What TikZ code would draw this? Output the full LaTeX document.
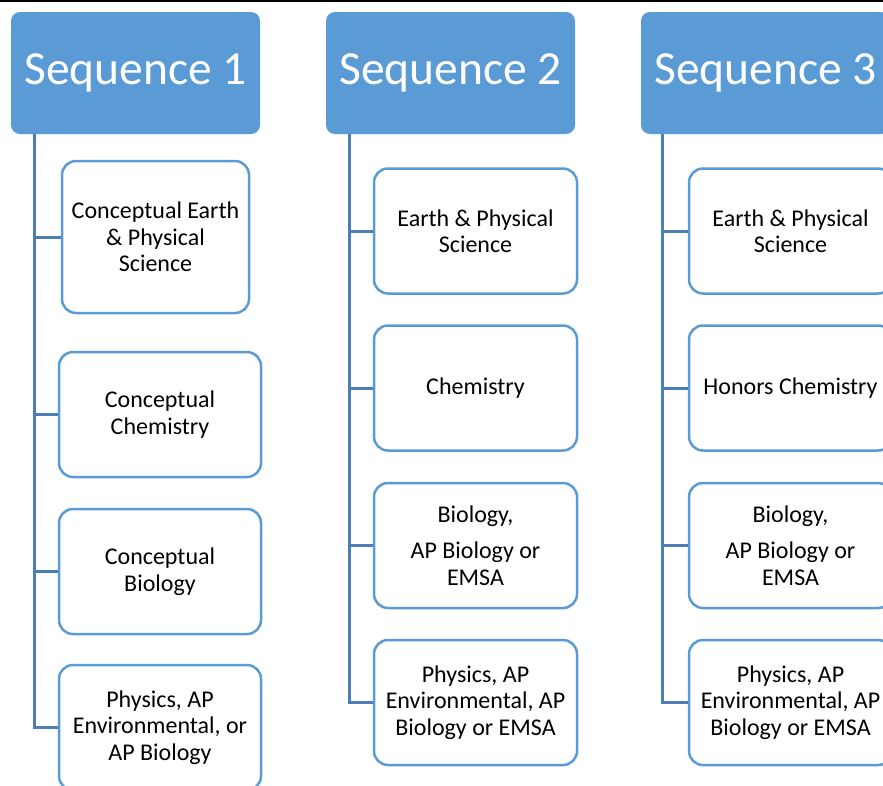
\documentclass[tikz,border=0pt]{standalone}
\usepackage{fontspec}
\setmainfont{Carlito}
\usetikzlibrary{calc}
\definecolor{hdrblue}{HTML}{5B9BD5}
\definecolor{boxblue}{HTML}{5B9BD5}
\definecolor{linkblue}{HTML}{4A7EB5}
\tikzset{
  header/.style={fill=hdrblue, draw=none, rounded corners=9pt, inner sep=0pt,
    minimum width=249pt, minimum height=122pt, text=white,
    font=\fontsize{47.5}{52}\selectfont},
  course/.style={draw=boxblue, line width=2.5pt, fill=white, rounded corners=14pt,
    inner sep=0pt, minimum height=125pt, align=center,
    font=\fontsize{24}{26.5}\selectfont},
  link/.style={draw=linkblue, line width=3pt}
}
\begin{document}
\begin{tikzpicture}[x=1pt, y=-1pt]
\useasboundingbox (0,0) rectangle (883,785);
\clip (0,0) rectangle (883,785);
\fill[white] (0,0) rectangle (883,785);
% rule across the top edge
\draw[line width=1.6pt, black] (0,0.8) -- (883,0.8);

% column headers
\node[header] (h1) at (135.5,73) {Sequence 1};
\node[header] (h2) at (450.5,73) {Sequence 2};
\node[header] (h3) at (765.5,73) {Sequence 3};

% trunk start points under each header
\coordinate (t1) at ($(h1.south west)+(24,0)$);
\coordinate (t2) at ($(h2.south west)+(24,0)$);
\coordinate (t3) at ($(h3.south west)+(22,0)$);

% sequence 1 courses
\node[course, minimum width=187pt, minimum height=152pt] (a1) at (155.5,237) {Conceptual Earth\\\& Physical\\Science};
\node[course, minimum width=202pt] (a2) at (160,414.5) {Conceptual\\Chemistry};
\node[course, minimum width=202pt] (a3) at (160,571.5) {Conceptual\\Biology};
\node[course, minimum width=202pt] (a4) at (160,727.5) {Physics, AP\\Environmental, or\\AP Biology};

% sequence 2 courses
\node[course, minimum width=203pt] (b1) at (475.5,231) {Earth \& Physical\\Science};
\node[course, minimum width=203pt] (b2) at (475.5,388) {Chemistry};
\node[course, minimum width=203pt] (b3) at (475.5,545.5) {Biology,\\[9.5pt]AP Biology or\\EMSA};
\node[course, minimum width=203pt] (b4) at (475.5,702.5) {Physics, AP\\Environmental, AP\\Biology or EMSA};

% sequence 3 courses
\node[course, minimum width=203pt] (c1) at (790.5,231) {Earth \& Physical\\Science};
\node[course, minimum width=203pt] (c2) at (790.5,388) {Honors Chemistry};
\node[course, minimum width=203pt] (c3) at (790.5,545.5) {Biology,\\[9.5pt]AP Biology or\\EMSA};
\node[course, minimum width=203pt] (c4) at (790.5,702.5) {Physics, AP\\Environmental, AP\\Biology or EMSA};

% connectors
\foreach \t/\n in {t1/a1,t1/a2,t1/a3,t1/a4,t2/b1,t2/b2,t2/b3,t2/b4,t3/c1,t3/c2,t3/c3,t3/c4}
  \draw[link] (\t) |- (\n.west);
\end{tikzpicture}
\end{document}
